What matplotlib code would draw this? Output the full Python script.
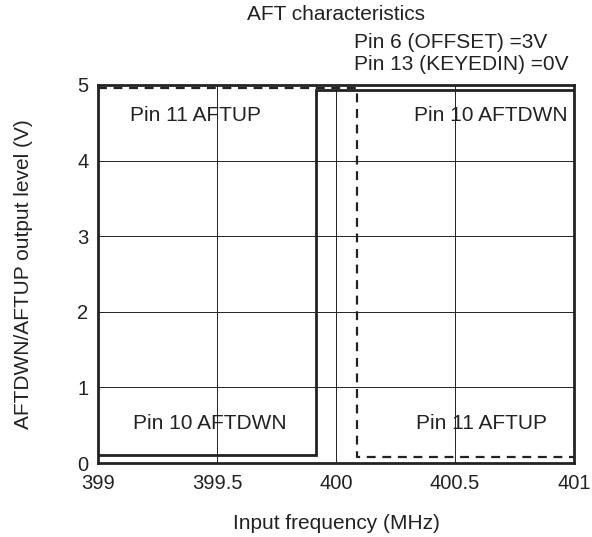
import matplotlib
matplotlib.use("Agg")
import matplotlib.pyplot as plt

# AFT output levels vs input frequency
aftdwn_freq = [399.0, 399.915, 399.915, 401.0]
aftdwn_volt = [0.11, 0.11, 4.93, 4.93]
aftup_freq = [399.0, 400.09, 400.09, 401.0]
aftup_volt = [4.96, 4.96, 0.08, 0.08]

x_ticks = [399, 399.5, 400, 400.5, 401]
x_labels = ["399", "399.5", "400", "400.5", "401"]
y_ticks = [0, 1, 2, 3, 4, 5]

plt.rcParams['font.family'] = ['Liberation Sans', 'DejaVu Sans']
plt.rcParams['font.size'] = 15
ink = '#222222'

fig = plt.figure(figsize=(5.92, 5.37), dpi=100)
ax = fig.add_axes([0.1655, 0.1378, 0.804, 0.704])

ax.plot(aftdwn_freq, aftdwn_volt, color=ink, linewidth=2, solid_joinstyle='miter')
ax.plot(aftup_freq, aftup_volt, color=ink, linewidth=1.6, linestyle=(0, (4, 3)))

ax.set_xlim(399, 401)
ax.set_ylim(0, 5)
ax.set_xticks(x_ticks, x_labels)
ax.set_yticks(y_ticks)
ax.tick_params(length=0, labelsize=14.5, colors=ink)
ax.tick_params(axis='x', pad=8)
ax.tick_params(axis='y', pad=7)
ax.grid(True, color=ink, linewidth=0.7)
for s in ax.spines.values():
    s.set_linewidth(2)
    s.set_color(ink)

ax.set_xlabel("Input frequency (MHz)", fontsize=15, labelpad=15, color=ink)
ax.set_ylabel("AFTDWN/AFTUP output level (V)", fontsize=15, labelpad=32, color=ink)

ax.text(399.41, 4.6, "Pin 11 AFTUP", ha='center', va='center', color=ink)
ax.text(400.975, 4.6, "Pin 10 AFTDWN", ha='right', va='center', color=ink)
ax.text(399.47, 0.52, "Pin 10 AFTDWN", ha='center', va='center', color=ink)
ax.text(400.61, 0.52, "Pin 11 AFTUP", ha='center', va='center', color=ink)

fig.text(247 / 592, 1 - 15 / 537, "AFT characteristics", ha='left', va='center', fontsize=15, color=ink)
fig.text(354 / 592, 1 - 43 / 537, "Pin 6 (OFFSET) =3V", ha='left', va='center', fontsize=15, color=ink)
fig.text(354 / 592, 1 - 65 / 537, "Pin 13 (KEYEDIN) =0V", ha='left', va='center', fontsize=15, color=ink)

fig.savefig("out.png", dpi=100)
